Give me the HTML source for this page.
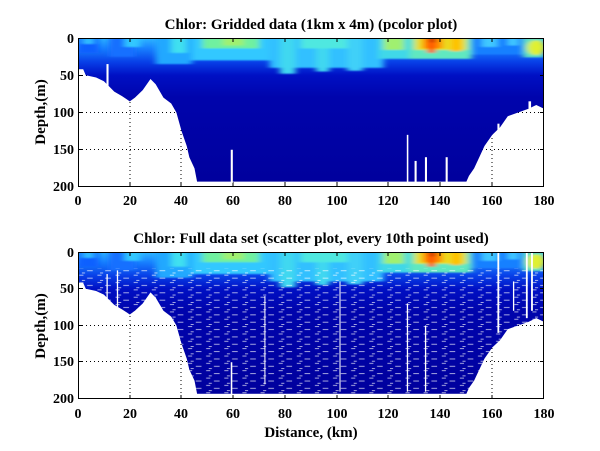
<!DOCTYPE html>
<html><head><meta charset="utf-8"><style>
html,body{margin:0;padding:0;background:#fff}
svg{display:block}
text{font-family:"Liberation Serif",serif;font-weight:bold;fill:#000}
</style></head><body>
<svg width="600" height="451" viewBox="0 0 600 451" xmlns="http://www.w3.org/2000/svg">
<defs>
<linearGradient id="vg" x1="0" y1="0" x2="0" y2="1">
<stop offset="0" stop-color="#30b8ff"/>
<stop offset="0.07" stop-color="#1880ff"/>
<stop offset="0.16" stop-color="#0840e8"/>
<stop offset="0.25" stop-color="#0010c4"/>
<stop offset="0.4" stop-color="#0004ac"/>
<stop offset="1" stop-color="#00009c"/>
</linearGradient>
<filter id="bl" x="-50%" y="-50%" width="200%" height="200%"><feGaussianBlur stdDeviation="1.2"/></filter>
<clipPath id="cp"><polygon points="0,0 180,0 180,95 177,90 174,95 170,100 166,105 163,120 160,130 157,145 155,160 153,175 151,185 150,193 46,193 45,175 43,160 42,145 40,125 38,100 36,88 33,80 30,62 28,55 25,70 22,80 20,85 17,78 14,72 12,65 10,58 7,53 3,50 2,42 0,42"/></clipPath>
<pattern id="sp" patternUnits="userSpaceOnUse" width="7" height="10">
<rect x="0.5" y="1" width="1.6" height="1.1" fill="#fff"/>
<rect x="3.5" y="5" width="2.2" height="1.1" fill="#fff"/>
<rect x="1.5" y="8" width="1.2" height="1.1" fill="#fff"/>
</pattern>
<g id="data">
<g clip-path="url(#cp)">
<rect x="0" y="0" width="180" height="200" fill="url(#vg)"/>
<g filter="url(#bl)">
<rect x="0" y="0" width="8" height="20" fill="#1060ff"/>
<rect x="2" y="0" width="4" height="8" fill="#30c0ff"/>
<rect x="12" y="0" width="10" height="25" fill="#1870ff"/>
<rect x="18" y="0" width="6" height="12" fill="#30c8ff"/>
<rect x="30" y="0" width="14" height="35" fill="#20a8ff"/>
<rect x="36" y="0" width="6" height="20" fill="#40e0f0"/>
<rect x="44" y="0" width="30" height="30" fill="#30c8ff"/>
<rect x="48" y="0" width="22" height="14" fill="#70f0a0"/>
<rect x="56" y="0" width="8" height="10" fill="#a0f070"/>
<rect x="74" y="0" width="44" height="40" fill="#30c0ff"/>
<rect x="78" y="0" width="6" height="48" fill="#40d8f0"/>
<rect x="92" y="0" width="5" height="45" fill="#40d8f0"/>
<rect x="104" y="0" width="6" height="44" fill="#40d0f8"/>
<rect x="86" y="0" width="18" height="14" fill="#50e8e0"/>
<rect x="116" y="0" width="12" height="28" fill="#40d8e8"/>
<rect x="118" y="0" width="8" height="16" fill="#a0f070"/>
<rect x="128" y="0" width="24" height="28" fill="#60e8c0"/>
<rect x="130" y="0" width="20" height="16" fill="#e8e020"/>
<rect x="133" y="0" width="8" height="14" fill="#ff9000"/>
<rect x="135" y="0" width="3" height="20" fill="#ff5000"/>
<rect x="136" y="0" width="2" height="6" fill="#c00000"/>
<rect x="144" y="0" width="4" height="18" fill="#ffc000"/>
<rect x="152" y="0" width="20" height="22" fill="#1880ff"/>
<rect x="156" y="0" width="6" height="12" fill="#40c8ff"/>
<rect x="166" y="0" width="4" height="10" fill="#40c8ff"/>
<rect x="172" y="0" width="8" height="26" fill="#60e0c0"/>
<ellipse cx="177" cy="13" rx="3.5" ry="10" fill="#e0f030"/>
</g>
</g>
</g>
</defs>

<!-- Top plot -->
<rect x="78" y="38" width="466" height="149" fill="#fff"/>
<g stroke="#000" stroke-width="1" stroke-dasharray="1,3" fill="none">
<path d="M78,75.5H544M78,112.5H544M78,149.5H544M130,38V187M181,38V187M233,38V187M285,38V187M337,38V187M388,38V187M440,38V187M492,38V187"/>
</g>
<g transform="translate(78,38) scale(2.589,0.745)">
<use href="#data"/>
<g fill="#fff"><rect x="11" y="35" width="0.8" height="30"/><rect x="59" y="150" width="0.8" height="45"/><rect x="127" y="130" width="0.6" height="65"/><rect x="130" y="165" width="0.8" height="30"/><rect x="134" y="160" width="0.8" height="35"/><rect x="142" y="160" width="0.8" height="35"/><rect x="162" y="115" width="0.8" height="20"/><rect x="174" y="85" width="1" height="10"/></g>
</g>
<rect x="78.5" y="38.5" width="465" height="148" fill="none" stroke="#000"/>
<g stroke="#000"><path d="M130,187v-4M181,187v-4M233,187v-4M285,187v-4M337,187v-4M388,187v-4M440,187v-4M492,187v-4M130,38v4M181,38v4M233,38v4M285,38v4M337,38v4M388,38v4M440,38v4M492,38v4M78,75.5h4M78,112.5h4M78,149.5h4M544,75.5h-4M544,112.5h-4M544,149.5h-4"/></g>
<g font-size="14" text-anchor="end"><text x="74" y="43">0</text><text x="74" y="80">50</text><text x="74" y="117">100</text><text x="74" y="154">150</text><text x="74" y="191">200</text></g>
<g font-size="14" text-anchor="middle"><text x="78" y="205">0</text><text x="130" y="205">20</text><text x="181" y="205">40</text><text x="233" y="205">60</text><text x="285" y="205">80</text><text x="337" y="205">100</text><text x="388" y="205">120</text><text x="440" y="205">140</text><text x="492" y="205">160</text><text x="544" y="205">180</text></g>
<text x="311" y="29" font-size="15" text-anchor="middle">Chlor: Gridded data (1km x 4m) (pcolor plot)</text>
<text transform="translate(45,112) rotate(-90)" font-size="15" text-anchor="middle">Depth,(m)</text>

<!-- Bottom plot -->
<rect x="78" y="252" width="466" height="147" fill="#fff"/>
<g stroke="#000" stroke-width="1" stroke-dasharray="1,3" fill="none">
<path d="M78,288.5H544M78,325.5H544M78,361.5H544M130,252V399M181,252V399M233,252V399M285,252V399M337,252V399M388,252V399M440,252V399M492,252V399"/>
</g>
<g transform="translate(78,252) scale(2.589,0.735)">
<use href="#data"/>
<g clip-path="url(#cp)"><rect x="0" y="22" width="180" height="186" fill="url(#sp)" opacity="0.8"/></g>
<g fill="#fff"><rect x="11" y="30" width="0.5" height="40"/><rect x="15" y="25" width="0.5" height="60"/><rect x="59" y="150" width="0.6" height="45"/><rect x="72" y="60" width="0.4" height="120"/><rect x="101" y="40" width="0.4" height="150"/><rect x="127" y="70" width="0.5" height="120"/><rect x="134" y="100" width="0.5" height="90"/><rect x="162" y="0" width="0.7" height="110"/><rect x="168" y="40" width="0.5" height="40"/><rect x="173" y="0" width="0.7" height="90"/><rect x="175" y="0" width="0.7" height="80"/></g>
</g>
<rect x="78.5" y="252.5" width="465" height="146" fill="none" stroke="#000"/>
<g stroke="#000"><path d="M130,399v-4M181,399v-4M233,399v-4M285,399v-4M337,399v-4M388,399v-4M440,399v-4M492,399v-4M130,252v4M181,252v4M233,252v4M285,252v4M337,252v4M388,252v4M440,252v4M492,252v4M78,288.5h4M78,325.5h4M78,361.5h4M544,288.5h-4M544,325.5h-4M544,361.5h-4"/></g>
<g font-size="14" text-anchor="end"><text x="74" y="257">0</text><text x="74" y="293">50</text><text x="74" y="330">100</text><text x="74" y="366">150</text><text x="74" y="403">200</text></g>
<g font-size="14" text-anchor="middle"><text x="78" y="418">0</text><text x="130" y="418">20</text><text x="181" y="418">40</text><text x="233" y="418">60</text><text x="285" y="418">80</text><text x="337" y="418">100</text><text x="388" y="418">120</text><text x="440" y="418">140</text><text x="492" y="418">160</text><text x="544" y="418">180</text></g>
<text x="311" y="243" font-size="15" text-anchor="middle">Chlor: Full data set (scatter plot, every 10th point used)</text>
<text transform="translate(45,326) rotate(-90)" font-size="15" text-anchor="middle">Depth,(m)</text>
<text x="311" y="437" font-size="15" text-anchor="middle">Distance, (km)</text>
</svg>
</body></html>
